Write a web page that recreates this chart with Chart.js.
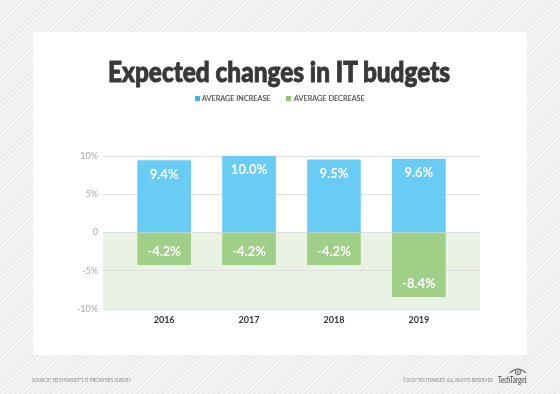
<!DOCTYPE html>
<html><head><meta charset="utf-8">
<script src="https://cdn.jsdelivr.net/npm/chart.js@4"></script>
<style>
html,body{margin:0;padding:0;width:560px;height:394px;overflow:hidden;}
body{position:relative;font-family:Lato,"Open Sans",sans-serif;
 background:repeating-linear-gradient(135deg,#ebebeb 0px,#ebebeb 1.6px,#f5f5f5 1.6px,#f5f5f5 3.6px);}
#card{position:absolute;left:33px;top:32px;width:494px;height:323px;background:#fff;}
#c{position:absolute;left:0;top:0;}
.fit{position:absolute;white-space:nowrap;transform-origin:0 0;}
#title{top:57px;font-size:28px;line-height:28px;font-weight:900;color:#383838;-webkit-text-stroke:0.9px #383838;}
.leg{top:94px;font-size:8px;line-height:9px;color:#4a4a4a;-webkit-text-stroke:0.15px #4a4a4a;}
.sq{position:absolute;top:96px;width:5px;height:5px;}
.foot{top:376px;font-size:6px;line-height:7px;color:#8a8a8a;}
#logo{top:375px;font-size:9px;line-height:10px;font-weight:700;color:#6a6a6a;}
#eye{position:absolute;left:509px;top:366px;}
</style>
</head><body>
<div id="card"></div>
<canvas id="c" width="560" height="394"></canvas>
<div id="title" class="fit">Expected changes in IT budgets</div>
<div class="sq" style="left:195px;background:#35b7ef"></div>
<div id="l1" class="fit leg">AVERAGE INCREASE</div>
<div class="sq" style="left:286px;background:#8cc66e"></div>
<div id="l2" class="fit leg">AVERAGE DECREASE</div>
<div id="f1" class="fit foot">SOURCE: TECHTARGET'S IT PRIORITIES SURVEY</div>
<div id="f2" class="fit foot">©2019 TECHTARGET. ALL RIGHTS RESERVED</div>
<div id="logo" class="fit">TechTarget</div>
<svg id="eye" width="18" height="10" viewBox="0 0 18 10">
 <path d="M1 7 Q9 -1 17 7" fill="none" stroke="#777" stroke-width="1.2"/>
 <circle cx="9" cy="6" r="2.6" fill="none" stroke="#777" stroke-width="1.1"/>
 <circle cx="9" cy="6" r="1" fill="#777"/>
</svg>
<script>
// ---- data ----
const years = ['2016', '2017', '2018', '2019'];
const increase = [9.4, 10.0, 9.5, 9.6];
const decrease = [-4.2, -4.2, -4.2, -8.4];
const yTicks = [-10, -5, 0, 5, 10];
const yTickLabels = ['-10%', '-5%', '0', '5%', '10%'];
const seriesNames = ['AVERAGE INCREASE', 'AVERAGE DECREASE'];

// ---- text fitting ----
function fit(id, x0, x1) {
  const el = document.getElementById(id);
  el.style.transform = 'none';
  const w = el.offsetWidth;
  el.style.left = x0 + 'px';
  el.style.transform = 'scaleX(' + ((x1 - x0) / w) + ')';
}
function fitAll() {
  fit('title', 108, 450);
  fit('l1', 202, 271);
  fit('l2', 293.5, 364.5);
  fit('f1', 32, 131);
  fit('f2', 403, 493);
  fit('logo', 498, 527);
}
fitAll();
if (document.fonts) document.fonts.ready.then(fitAll);

// ---- plugins ----
const bandPlugin = {
  id: 'band',
  beforeDraw(chart) {
    const {ctx, chartArea, scales} = chart;
    const y0 = scales.y.getPixelForValue(0);
    const y1 = scales.y.getPixelForValue(-10);
    ctx.save();
    ctx.fillStyle = '#eaf3e3';
    ctx.fillRect(chartArea.left, y0, chartArea.right - chartArea.left, y1 - y0);
    ctx.restore();
  }
};
const labelPlugin = {
  id: 'barLabels',
  afterDatasetsDraw(chart) {
    const ctx = chart.ctx;
    ctx.save();
    ctx.fillStyle = '#ffffff';
    ctx.font = 'bold 13px Lato, "Open Sans", sans-serif';
    ctx.textAlign = 'center';
    ctx.textBaseline = 'middle';
    chart.data.datasets.forEach((ds, di) => {
      const meta = chart.getDatasetMeta(di);
      meta.data.forEach((bar, i) => {
        const v = ds.data[i].y;
        const y = v >= 0 ? bar.y + 14 : bar.y - 13;
        ctx.fillText(v.toFixed(1) + '%', bar.x, y);
      });
    });
    ctx.restore();
  }
};

new Chart(document.getElementById('c'), {
  type: 'bar',
  data: {
    datasets: [
      { label: seriesNames[0], data: increase.map((v, i) => ({x: i, y: v})),
        backgroundColor: '#69ccf5', grouped: false, barThickness: 53 },
      { label: seriesNames[1], data: decrease.map((v, i) => ({x: i, y: v})),
        backgroundColor: '#a0cf88', grouped: false, barThickness: 53 }
    ]
  },
  options: {
    responsive: false,
    animation: false,
    devicePixelRatio: 1,
    layout: { padding: { left: 60, right: 80, top: 156, bottom: 65 } },
    plugins: { legend: { display: false }, title: { display: false }, tooltip: { enabled: false } },
    scales: {
      x: {
        type: 'linear',
        offset: false,
        min: -0.72, max: 3.72,
        afterBuildTicks: s => { s.ticks = years.map((_, i) => ({value: i})); },
        afterFit: s => { s.height = 20; },
        grid: { display: false, drawTicks: false, offset: false },
        border: { display: false },
        ticks: {
          padding: 6,
          color: '#333',
          font: { family: 'Lato, "Open Sans", sans-serif', size: 9, weight: 'bold' },
          callback: v => years[Math.round(v)]
        }
      },
      y: {
        min: -10, max: 10,
        afterBuildTicks: s => { s.ticks = yTicks.map(v => ({value: v})); },
        afterFit: s => { s.width = 43; },
        grid: { color: '#dedede', lineWidth: 1, drawTicks: false },
        border: { display: false },
        ticks: {
          padding: 5,
          color: '#a8a8a8',
          font: { family: 'Lato, "Open Sans", sans-serif', size: 9 },
          callback: v => yTickLabels[yTicks.indexOf(v)]
        }
      }
    }
  },
  plugins: [bandPlugin, labelPlugin]
});
</script>
</body></html>
